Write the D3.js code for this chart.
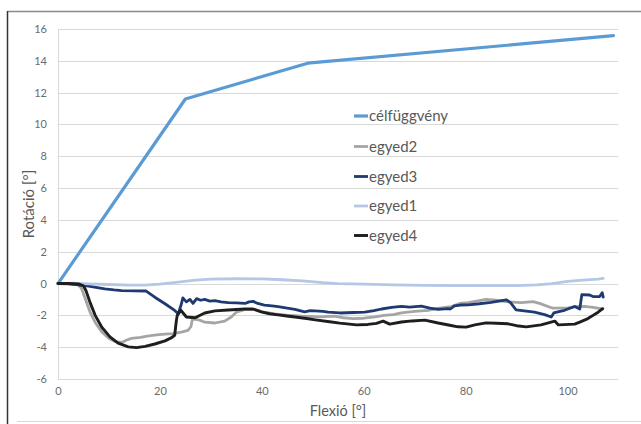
<!DOCTYPE html>
<html><head><meta charset="utf-8">
<script src="https://cdn.jsdelivr.net/npm/d3@7"></script>
<style>html,body{margin:0;padding:0;background:#fff;}svg{display:block;}</style>
</head><body>
<script>
const seriesNames = ["célfüggvény","egyed2","egyed3","egyed1","egyed4"];
const seriesColors = ["#5B9BD5","#A5A5A5","#1F3A72","#B4C7E7","#1E1E1E"];
const xTicks = [0,20,40,60,80,100];
const yTicks = [-6,-4,-2,0,2,4,6,8,10,12,14,16];

const celfuggveny = [[0,0],[25,11.6],[49,13.85],[109,15.58]];
const egyed2 = [[0,0],[2,0],[3.8,-0.05],[4.6,-0.3],[5.4,-1.0],[6.3,-1.8],[7.4,-2.5],[8.6,-3.05],[10,-3.45],[11.3,-3.65],[12.5,-3.7],[13.5,-3.55],[14.4,-3.45],[16.2,-3.38],[17.5,-3.3],[19.3,-3.22],[21.6,-3.16],[22.6,-3.15],[24.2,-3.05],[25.5,-2.95],[26.1,-2.7],[26.4,-2.2],[27.8,-2.3],[28.8,-2.43],[30.8,-2.48],[32.7,-2.36],[34,-2.1],[35,-1.8],[36.7,-1.63],[38.3,-1.63],[40.2,-1.78],[42.5,-1.9],[44.9,-1.98],[48,-2.05],[51.4,-2.09],[54.3,-2.05],[56,-2.15],[57.9,-2.2],[60,-2.18],[62.2,-2.1],[64,-2.0],[65.8,-1.95],[67.4,-1.84],[70,-1.75],[72.6,-1.68],[74.5,-1.56],[77.2,-1.45],[78.8,-1.25],[80.5,-1.2],[82.7,-1.07],[84,-0.99],[86,-1.05],[88,-1.14],[90.9,-1.2],[93.2,-1.14],[94.5,-1.25],[97.1,-1.55],[100.1,-1.53],[101.5,-1.45],[103.3,-1.44],[105,-1.5],[106.9,-1.6]];
const egyed3 = [[0,0],[2,-0.02],[4,-0.08],[5,-0.12],[6.6,-0.19],[8,-0.27],[9.2,-0.33],[11,-0.4],[12.5,-0.44],[15,-0.46],[17.3,-0.47],[19,-0.86],[21,-1.27],[22.9,-1.69],[23.6,-1.9],[24.2,-1.3],[24.5,-0.9],[25.2,-1.15],[25.9,-1.0],[26.5,-1.25],[27.2,-0.95],[28,-1.05],[28.8,-1.0],[29.8,-1.1],[30.8,-1.08],[32,-1.15],[33.4,-1.2],[35,-1.22],[36.7,-1.25],[37.5,-1.15],[38.3,-1.12],[39.2,-1.25],[40.5,-1.35],[42,-1.4],[43.2,-1.45],[45,-1.55],[46.5,-1.62],[48.4,-1.78],[49.5,-1.7],[50.4,-1.72],[52,-1.75],[53,-1.8],[55.3,-1.85],[58,-1.82],[60.2,-1.8],[62,-1.7],[63.5,-1.6],[65.5,-1.5],[67.4,-1.44],[69,-1.48],[71.3,-1.42],[73,-1.55],[74.6,-1.63],[76.5,-1.58],[77,-1.6],[77.8,-1.4],[79,-1.35],[80.5,-1.34],[82.7,-1.27],[85,-1.18],[86.5,-1.1],[88,-1.02],[88.8,-1.2],[89.9,-1.65],[91.5,-1.72],[93.5,-1.8],[95.5,-1.95],[96.8,-2.1],[97.3,-1.85],[98.5,-1.75],[99.4,-1.68],[101.4,-1.44],[102.4,-1.6],[102.8,-0.7],[104.3,-0.72],[105,-0.82],[106.3,-0.82],[106.8,-0.58],[107,-0.85]];
const egyed1 = [[0,0],[3,0.02],[6,-0.02],[10,-0.06],[14,-0.1],[17,-0.1],[20,-0.03],[24,0.1],[27,0.22],[30,0.28],[35,0.3],[40,0.29],[44,0.24],[48,0.17],[52,0.06],[55,0],[60,-0.04],[66,-0.08],[72,-0.12],[78,-0.13],[84,-0.13],[90,-0.13],[94,-0.08],[97,0],[100,0.13],[103,0.22],[106,0.28],[107,0.32]];
const egyed4 = [[0,0],[2,0],[4,-0.02],[5,-0.15],[5.5,-0.45],[6.3,-1.2],[7.3,-2.0],[8.6,-2.75],[10.2,-3.35],[11.8,-3.75],[13.8,-3.98],[15.4,-4.03],[17.1,-3.95],[19,-3.8],[21,-3.6],[22.3,-3.4],[22.9,-3.25],[23.2,-2.4],[23.4,-2.0],[24.1,-1.68],[25.2,-2.1],[26.9,-2.15],[28.8,-1.85],[30.8,-1.72],[33.4,-1.66],[36.7,-1.6],[38.3,-1.6],[39.9,-1.78],[41.5,-1.9],[43.2,-1.97],[44.9,-2.04],[46.5,-2.1],[48.8,-2.2],[50.5,-2.28],[53.3,-2.4],[55.3,-2.49],[58.6,-2.6],[60.8,-2.57],[62.5,-2.5],[63.8,-2.36],[65.1,-2.55],[67.4,-2.42],[69.5,-2.35],[72,-2.3],[74.6,-2.48],[76.9,-2.62],[78.5,-2.72],[80.1,-2.74],[81.8,-2.6],[84,-2.47],[86,-2.5],[88.3,-2.53],[90,-2.65],[91.9,-2.72],[94.8,-2.6],[97.5,-2.36],[98.2,-2.6],[101.4,-2.55],[102.4,-2.42],[104,-2.2],[105,-2.0],[106,-1.8],[106.9,-1.58]];

const seriesData = [celfuggveny, egyed2, egyed3, egyed1, egyed4];
const seriesWidths = [3.2, 2.8, 2.8, 2.8, 2.9];

const W = 641, H = 424;
const FONT = "Lato, 'Liberation Sans', sans-serif";
const svg = d3.select("body").append("svg").attr("width", W).attr("height", H);
svg.append("rect").attr("width", W).attr("height", H).attr("fill", "#fff");

// document frame
svg.append("line").attr("x1", 7).attr("x2", W).attr("y1", 11.5).attr("y2", 11.5).attr("stroke", "#8a8a8a").attr("stroke-width", 1.5);
svg.append("line").attr("x1", 7.5).attr("x2", 7.5).attr("y1", 11).attr("y2", H).attr("stroke", "#333").attr("stroke-width", 1.5);
svg.append("line").attr("x1", 17).attr("x2", W).attr("y1", 421.5).attr("y2", 421.5).attr("stroke", "#d9d9d9").attr("stroke-width", 1);

const x = d3.scaleLinear().domain([0, 110]).range([58, 618.5]);
const y = d3.scaleLinear().domain([-6, 16]).range([379, 29]);

// gridlines
svg.append("g").selectAll("line").data(yTicks).join("line")
  .attr("x1", x(0)).attr("x2", x(110))
  .attr("y1", d => Math.round(y(d)) + 0.5).attr("y2", d => Math.round(y(d)) + 0.5)
  .attr("stroke", "#d9d9d9").attr("stroke-width", 1);
svg.append("line").attr("x1", Math.round(x(0)) + 0.5).attr("x2", Math.round(x(0)) + 0.5)
  .attr("y1", y(16)).attr("y2", y(-6)).attr("stroke", "#d9d9d9");

// axes labels via d3 axis
const fmt = d => String(d);
const yAxis = svg.append("g").attr("transform", `translate(${x(0) - 11},0)`)
  .call(d3.axisLeft(y).tickValues(yTicks).tickSize(0).tickPadding(0).tickFormat(fmt));
yAxis.select(".domain").remove();
yAxis.selectAll("text").attr("font-family", FONT).attr("font-size", 11).attr("fill", "#6b6b6b");

const xAxis = svg.append("g").attr("transform", `translate(0,${y(-6) + 8})`)
  .call(d3.axisBottom(x).tickValues(xTicks).tickSize(0).tickPadding(0).tickFormat(fmt));
xAxis.select(".domain").remove();
xAxis.selectAll("text").attr("font-family", FONT).attr("font-size", 11).attr("fill", "#6b6b6b");

// axis titles
svg.append("text").attr("x", 338).attr("y", 416).attr("text-anchor", "middle")
  .attr("font-family", FONT).attr("font-size", 14.5).attr("fill", "#595959").text("Flexió [°]");
svg.append("text").attr("transform", "translate(34,204) rotate(-90)").attr("text-anchor", "middle")
  .attr("font-family", FONT).attr("font-size", 15).attr("fill", "#595959").text("Rotáció [°]");

// lines
const line = d3.line().x(d => x(d[0])).y(d => y(d[1]));
seriesData.forEach((data, i) => {
  svg.append("path").datum(data).attr("d", line)
    .attr("fill", "none").attr("stroke", seriesColors[i]).attr("stroke-width", seriesWidths[i])
    .attr("stroke-linejoin", "round").attr("stroke-linecap", "round");
});

// legend
const legendY = [116, 146.5, 176.5, 206, 235.5];
const lg = svg.append("g");
seriesNames.forEach((name, i) => {
  lg.append("line").attr("x1", 354).attr("x2", 368).attr("y1", legendY[i]).attr("y2", legendY[i])
    .attr("stroke", seriesColors[i]).attr("stroke-width", seriesWidths[i]);
  lg.append("text").attr("x", 369).attr("y", legendY[i] + 5)
    .attr("font-family", FONT).attr("font-size", 15).attr("fill", "#595959").text(name);
});
</script>
</body></html>
